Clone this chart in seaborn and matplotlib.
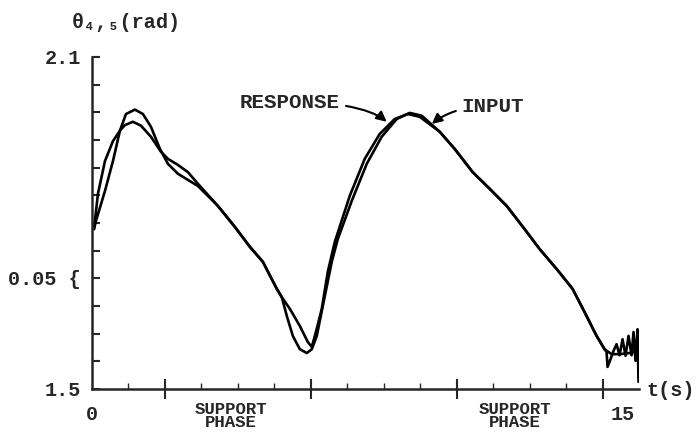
import pandas as pd
import matplotlib.pyplot as plt
import seaborn as sns

# Input trajectory (time in s, angle in rad)
t_input = [0.055, 0.164, 0.356, 0.575, 0.767, 0.904, 1.123, 1.342, 1.616, 1.890,
           2.082, 2.356, 2.630, 2.904, 3.452, 3.918, 4.329, 4.685, 5.068, 5.205,
           5.425, 5.699, 5.918, 6.027, 6.164, 6.301, 6.466, 6.658, 7.068, 7.479,
           7.890, 8.301, 8.658, 8.986, 9.534, 9.945, 10.438, 10.904, 11.370, 11.863,
           12.274, 12.740, 13.178, 13.507, 13.836, 14.055, 14.247, 14.466, 14.740, 14.986]
theta_input = [1.789, 1.853, 1.912, 1.948, 1.967, 1.977, 1.983, 1.976, 1.956, 1.929,
               1.916, 1.905, 1.892, 1.871, 1.831, 1.793, 1.757, 1.730, 1.681, 1.666,
               1.645, 1.614, 1.585, 1.576, 1.609, 1.645, 1.712, 1.766, 1.849, 1.916,
               1.961, 1.988, 1.997, 1.992, 1.965, 1.934, 1.892, 1.862, 1.831, 1.789,
               1.753, 1.717, 1.681, 1.639, 1.596, 1.572, 1.563, 1.563, 1.565, 1.569]

# Measured response
t_response = [0.055, 0.110, 0.356, 0.575, 0.767, 0.932, 1.178, 1.397, 1.616, 1.863,
              2.082, 2.356, 2.630, 2.904, 3.452, 3.918, 4.329, 4.685, 5.068, 5.205,
              5.342, 5.507, 5.699, 5.890, 6.027, 6.164, 6.329, 6.575, 6.740, 7.123,
              7.534, 7.945, 8.356, 8.712, 9.041, 9.534, 9.945, 10.438, 10.904, 11.370,
              11.863, 12.274, 12.740, 13.178, 13.507, 13.836, 14.055, 14.110, 14.137, 14.219,
              14.301, 14.384, 14.466, 14.548, 14.630, 14.712, 14.795, 14.849, 14.904, 14.959,
              14.986]
theta_response = [1.789, 1.804, 1.858, 1.912, 1.967, 1.997, 2.005, 1.997, 1.974, 1.934,
                  1.907, 1.889, 1.878, 1.867, 1.831, 1.793, 1.757, 1.730, 1.681, 1.666,
                  1.632, 1.596, 1.572, 1.565, 1.572, 1.596, 1.650, 1.730, 1.771, 1.840,
                  1.907, 1.956, 1.988, 1.999, 1.994, 1.965, 1.934, 1.892, 1.862, 1.831,
                  1.789, 1.753, 1.717, 1.681, 1.639, 1.596, 1.572, 1.567, 1.540, 1.554,
                  1.569, 1.581, 1.561, 1.590, 1.560, 1.596, 1.561, 1.603, 1.551, 1.608,
                  1.513]

y_tick_labels = {2.1: '2.1', 1.7: '0.05 {', 1.5: '1.5'}
phase_centers = [3.8, 11.6]

sns.set_style('ticks')
plt.rcParams['font.family'] = ['Liberation Mono', 'DejaVu Sans Mono']
plt.rcParams['font.weight'] = 'bold'

df_in = pd.DataFrame({'t': t_input, 'theta': theta_input})
df_resp = pd.DataFrame({'t': t_response, 'theta': theta_response})

fig = plt.figure(figsize=(7, 4.35), dpi=100)
ax = fig.add_axes([0.1314, 0.1034, 0.7815, 0.7632])

sns.lineplot(data=df_in, x='t', y='theta', ax=ax, color='black', lw=1.9, sort=False)
sns.lineplot(data=df_resp, x='t', y='theta', ax=ax, color='black', lw=1.9, sort=False)

ax.set_xlim(0, 15)
ax.set_ylim(1.5, 2.1)
sns.despine(ax=ax)
ax.spines['left'].set_linewidth(1.8)
ax.spines['bottom'].set_linewidth(1.8)
ax.set_xlabel('')
ax.set_ylabel('')

# y ticks every 0.05, only three labelled
yt = [1.5 + 0.05 * i for i in range(13)]
ax.set_yticks(yt)
ax.set_yticklabels([''] * len(yt))
ax.tick_params(axis='y', direction='in', length=6, width=1.5)
for val, lab in y_tick_labels.items():
    ax.text(-0.3, val, lab, ha='right', va='center', fontsize=14.5, fontweight='bold')

# x: major ticks at phase bounds, minor every second
ax.set_xticks([2, 6, 10, 14])
ax.set_xticklabels([''] * 4)
ax.set_xticks(range(1, 15), minor=True)
ax.tick_params(axis='x', which='major', direction='inout', length=14, width=1.5)
ax.tick_params(axis='x', which='minor', direction='in', length=4, width=1.0)

ax.text(0, 1.473, '0', ha='center', va='top', fontsize=14.5, fontweight='bold')
ax.text(14.55, 1.473, '15', ha='center', va='top', fontsize=14.5, fontweight='bold')
ax.text(15.2, 1.5, 't(s)', ha='left', va='center', fontsize=14.5, fontweight='bold', clip_on=False)
for c in phase_centers:
    ax.text(c, 1.479, 'SUPPORT\nPHASE', ha='center', va='top', fontsize=12.5,
            fontweight='bold', linespacing=0.9)

ax.text(-0.55, 2.165, 'θ₄,₅(rad)', ha='left', va='center', fontsize=14.5, fontweight='bold')

arrow = dict(arrowstyle='-|>', color='black', lw=1.5, mutation_scale=15,
             connectionstyle='angle3,angleA=0,angleB=-40', shrinkA=2, shrinkB=0)
ax.annotate('RESPONSE', xy=(8.08, 1.983), xytext=(6.8, 2.019), ha='right', va='center',
            fontsize=15, fontweight='bold', arrowprops=arrow)
arrow2 = dict(arrowstyle='-|>', color='black', lw=1.5, mutation_scale=15,
              connectionstyle='angle3,angleA=0,angleB=-140', shrinkA=2, shrinkB=0)
ax.annotate('INPUT', xy=(9.32, 1.979), xytext=(10.14, 2.012), ha='left', va='center',
            fontsize=15, fontweight='bold', arrowprops=arrow2)

fig.savefig('out.png', dpi=100)
